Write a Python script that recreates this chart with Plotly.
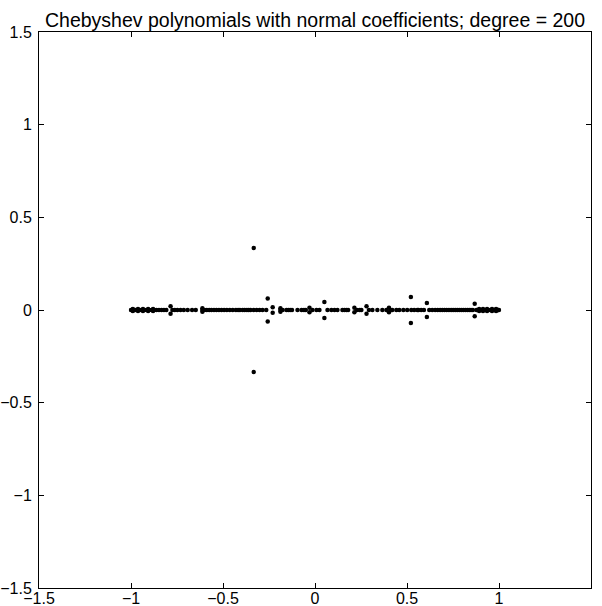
import plotly.graph_objects as go

title_text = "Chebyshev polynomials with normal coefficients; degree = 200"

# real roots (imag = 0)
real_roots = [
    -0.9995, -0.998, -0.995, -0.991, -0.986, -0.980, -0.973, -0.965, -0.956, -0.946,
    -0.936, -0.925, -0.913, -0.901, -0.888, -0.875, -0.862, -0.848, -0.834, -0.821,
    -0.808, -0.775, -0.762, -0.748, -0.731, -0.713, -0.692, -0.668, -0.648, -0.612,
    -0.600, -0.588, -0.575, -0.563, -0.549, -0.536, -0.522, -0.508, -0.494, -0.479,
    -0.463, -0.447, -0.430, -0.418, -0.408, -0.393, -0.382, -0.370, -0.360, -0.350,
    -0.333, -0.317, -0.301, -0.285, -0.265, -0.188, -0.176, -0.155, -0.145, -0.135,
    -0.125, -0.095, -0.073, -0.060, -0.050, -0.014, 0.008, 0.024, 0.068, 0.089,
    0.106, 0.122, 0.149, 0.160, 0.171, 0.180, 0.228, 0.243, 0.252, 0.293,
    0.312, 0.339, 0.366, 0.388, 0.410, 0.420, 0.442, 0.458, 0.480, 0.501,
    0.523, 0.539, 0.556, 0.562, 0.577, 0.592, 0.621, 0.637, 0.653, 0.667,
    0.680, 0.692, 0.704, 0.716, 0.728, 0.740, 0.751, 0.762, 0.773, 0.784,
    0.795, 0.806, 0.817, 0.828, 0.838, 0.848, 0.858, 0.878, 0.888, 0.897,
    0.906, 0.915, 0.924, 0.933, 0.942, 0.951, 0.959, 0.967, 0.975, 0.982,
    0.988, 0.993, 0.997, 0.9995,
]

# complex-conjugate pairs: real part and positive imaginary part
pair_re = [-0.333, -0.257, -0.230, -0.785, -0.612, -0.188, -0.030, 0.051, 0.214,
           0.280, 0.402, 0.521, 0.608, 0.868,
           -0.990, -0.962, -0.935, -0.907, -0.880, 0.892, 0.913, 0.935, 0.962, 0.984]
pair_im = [0.335, 0.062, 0.015, 0.020, 0.010, 0.010, 0.012, 0.043, 0.012,
           0.020, 0.012, 0.070, 0.038, 0.034,
           0.006, 0.005, 0.005, 0.005, 0.005, 0.005, 0.005, 0.005, 0.005, 0.005]

xs = list(real_roots) + list(pair_re) + list(pair_re)
ys = [0.0] * len(real_roots) + list(pair_im) + [-v for v in pair_im]

tick_vals = [-1.5, -1, -0.5, 0, 0.5, 1, 1.5]
tick_text = ["\u22121.5", "\u22121", "\u22120.5", "0", "0.5", "1", "1.5"]

FONT = "Liberation Sans, Arial, Helvetica, sans-serif"

fig = go.Figure()
fig.add_trace(go.Scatter(
    x=xs, y=ys, mode="markers",
    marker=dict(color="black", size=4.5, line=dict(width=0)),
    showlegend=False, hoverinfo="x+y",
))

axis_common = dict(
    range=[-1.5, 1.5], tickvals=tick_vals, ticktext=tick_text,
    ticks="inside", ticklen=5, tickcolor="black", tickwidth=1,
    showline=True, linecolor="black", linewidth=1, mirror="ticks",
    showgrid=False, zeroline=False, automargin=False,
    tickfont=dict(family=FONT, size=16, color="black"),
)

fig.update_layout(
    width=602, height=606,
    margin=dict(l=39, r=11, t=32, b=18, pad=0),
    paper_bgcolor="white", plot_bgcolor="white",
    title=dict(text=title_text, xref="paper", x=0.5, xanchor="center",
               yref="container", y=1 - 20 / 606, yanchor="middle",
               font=dict(family=FONT, size=19.5, color="black")),
    xaxis=dict(axis_common, ticklabelstandoff=-4),
    yaxis=dict(axis_common, ticklabelstandoff=3),
)

fig.write_html("out.html", config={"displayModeBar": False},
               post_script="document.body.style.margin='0';document.body.style.overflow='hidden';")
